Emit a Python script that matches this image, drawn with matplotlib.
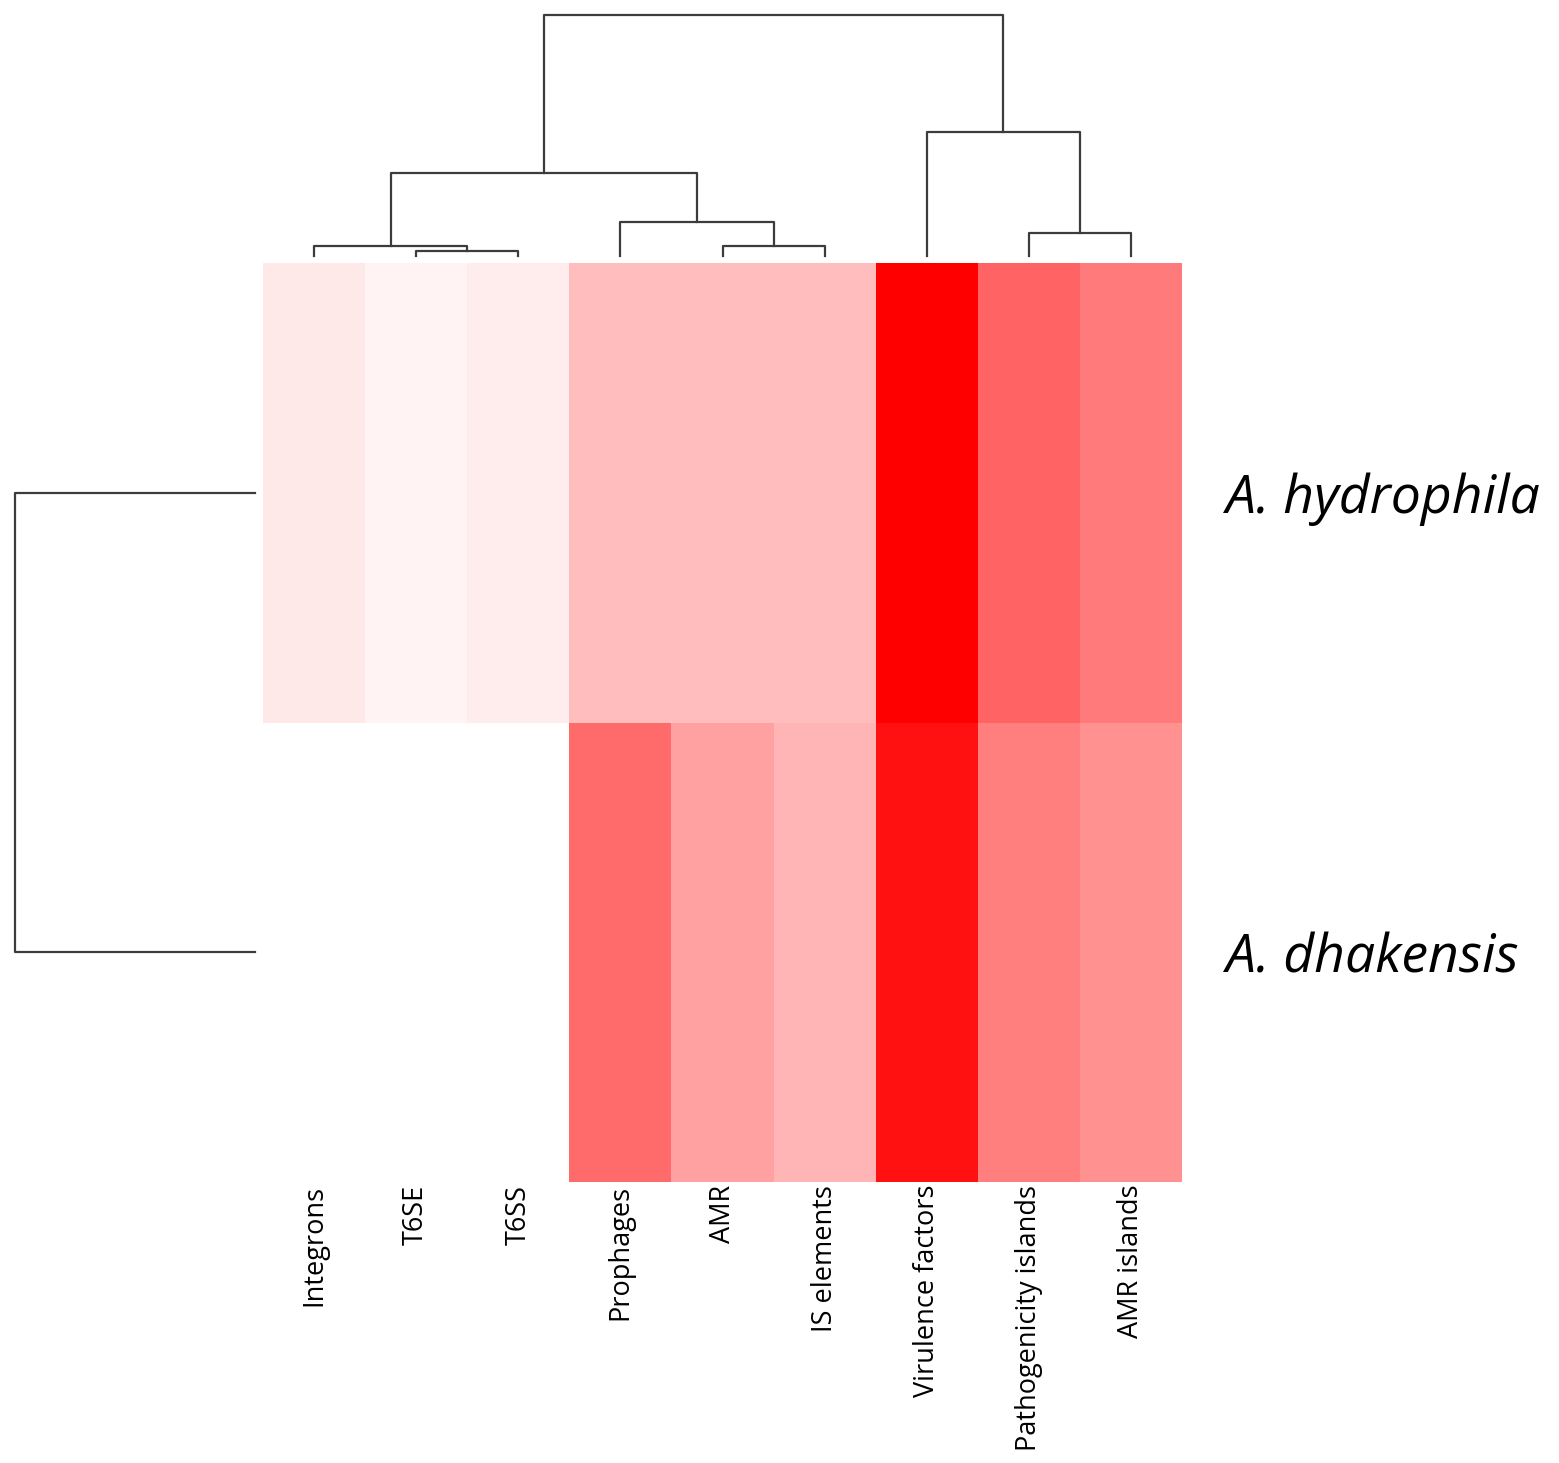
import numpy as np
import matplotlib
matplotlib.use('Agg')
import matplotlib.pyplot as plt
from matplotlib.colors import LinearSegmentedColormap

plt.rcParams['font.family'] = ['Open Sans', 'DejaVu Sans']

# column order as shown (leaf order of the column dendrogram)
features = ['Integrons', 'T6SE', 'T6SS', 'Prophages', 'AMR', 'IS elements',
            'Virulence factors', 'Pathogenicity islands', 'AMR islands']
species = ['A. hydrophila', 'A. dhakensis']

# normalised values (0 = white, 1 = full red)
hydrophila = [0.09, 0.05, 0.075, 0.26, 0.26, 0.26, 1.00, 0.61, 0.52]
dhakensis = [0.00, 0.00, 0.00, 0.58, 0.37, 0.29, 0.93, 0.50, 0.43]

# column linkage: (left node, right node, height); leaves 0..8, new nodes 9..
col_links = [
    (1, 2, 5),      # 9  T6SE + T6SS
    (0, 9, 10),     # 10 Integrons + (T6SE,T6SS)
    (4, 5, 10),     # 11 AMR + IS elements
    (3, 11, 34),    # 12 Prophages + (AMR,IS)
    (10, 12, 83),   # 13
    (7, 8, 23),     # 14 Pathogenicity islands + AMR islands
    (6, 14, 124),   # 15 Virulence + (PI,AMRI)
    (13, 15, 241),  # 16 root
]
# row linkage
row_links = [(0, 1, 241)]


def dendro_lines(n_leaves, links):
    pos = {i: i + 0.5 for i in range(n_leaves)}
    hgt = {i: 0.0 for i in range(n_leaves)}
    segs = []
    for k, (a, b, h) in enumerate(links):
        node = n_leaves + k
        segs.append(([pos[a], pos[a], pos[b], pos[b]], [hgt[a], h, h, hgt[b]]))
        pos[node] = (pos[a] + pos[b]) / 2
        hgt[node] = h
    return segs


data = np.array([hydrophila, dhakensis])
cmap = LinearSegmentedColormap.from_list('wr', ['#ffffff', '#ff0000'])

W, H = 1559, 1463
fig = plt.figure(figsize=(W / 100, H / 100), dpi=100)

# heatmap
ax = fig.add_axes([263 / W, 1 - 1182 / H, 919 / W, 919 / H])
ax.pcolormesh(np.arange(len(features) + 1), np.arange(len(species) + 1), data,
              cmap=cmap, vmin=0, vmax=1)
ax.set_xlim(0, len(features))
ax.set_ylim(len(species), 0)
ax.set_xticks(np.arange(len(features)) + 0.5)
ax.set_xticklabels(features, rotation=90, fontsize=19.5, va='top')
ax.set_yticks(np.arange(len(species)) + 0.5)
ax.set_yticklabels(species, fontsize=38.5, style='italic')
ax.yaxis.tick_right()
ax.tick_params(axis='x', length=0, pad=2)
ax.tick_params(axis='y', length=0, pad=32)
for s in ax.spines.values():
    s.set_visible(False)

line_kw = dict(color='#3c3c3c', linewidth=1.6, clip_on=False)

# column dendrogram
axc = fig.add_axes([263 / W, 1 - 256 / H, 919 / W, 241 / H])
for xs, ys in dendro_lines(len(features), col_links):
    axc.plot(xs, ys, **line_kw)
axc.set_xlim(0, len(features))
axc.set_ylim(0, 241)
axc.axis('off')

# row dendrogram
axr = fig.add_axes([15 / W, 1 - 1182 / H, 240 / W, 919 / H])
for ys, xs in dendro_lines(len(species), row_links):
    axr.plot(xs, ys, **line_kw)
axr.set_ylim(len(species), 0)
axr.set_xlim(241, 0)
axr.axis('off')

fig.savefig('out.png', dpi=100, facecolor='white')
